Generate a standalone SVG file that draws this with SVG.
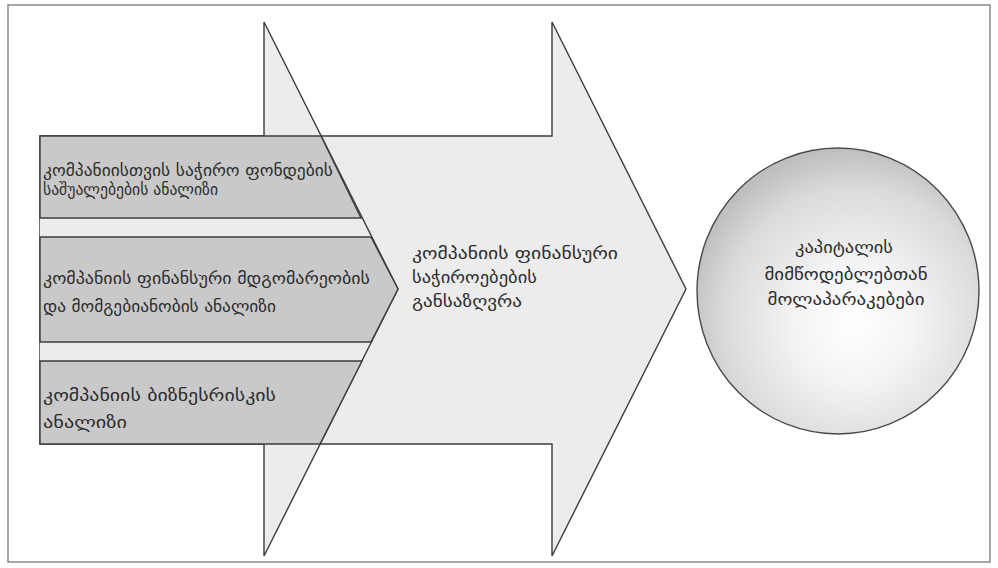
<svg xmlns="http://www.w3.org/2000/svg" width="998" height="568" viewBox="0 0 998 568">
<defs>
<radialGradient id="sphere" cx="0.56" cy="0.6" r="0.6" fx="0.56" fy="0.62">
<stop offset="0" stop-color="#ffffff"/>
<stop offset="0.35" stop-color="#f4f4f4"/>
<stop offset="0.78" stop-color="#dadada"/>
<stop offset="1" stop-color="#bebebe"/>
</radialGradient>
<style>
.edge{stroke:#3c3c3c;stroke-width:1.4;stroke-linejoin:miter}
.light{fill:#ececec}
.band{fill:#c9c9c9}
.t{font-family:"DejaVu Sans","Noto Sans",sans-serif;fill:#2e2e2e}
.s{font-size:16px}
.m{font-size:17px}
</style>
</defs>
<rect x="8" y="5" width="982" height="557" fill="#ffffff" stroke="#8a8a8a" stroke-width="1.5"/>
<g id="main-arrow">
<polygon class="light edge" points="40,136 552,136 552,22 686,289 552,556 552,444 40,444"/>
<text class="t m" x="412" y="259" textLength="206" lengthAdjust="spacingAndGlyphs">კომპანიის  ფინანსური</text>
<text class="t m" x="412" y="283" textLength="125" lengthAdjust="spacingAndGlyphs">საჭიროებების</text>
<text class="t m" x="412" y="307" textLength="110" lengthAdjust="spacingAndGlyphs">განსაზღვრა</text>
</g>
<g id="input-arrow">
<polygon class="light" points="40,136 264,136 264,22 398,289 264,556 264,444 40,444"/>
<polyline class="edge" fill="none" points="264,136 264,22 398,289 264,556 264,444"/>
</g>
<g id="box-funds">
<polygon class="band edge" points="40,136 321,136 361,218 40,218"/>
<text class="t s" x="43" y="176" textLength="290" lengthAdjust="spacingAndGlyphs">კომპანიისთვის საჭირო ფონდების</text>
<text class="t s" x="43" y="195" textLength="175" lengthAdjust="spacingAndGlyphs">საშუალებების ანალიზი</text>
</g>
<g id="box-finance">
<polygon class="band edge" points="40,237 371,237 398,289 371,342 40,342"/>
<text class="t s" x="43" y="284" textLength="327" lengthAdjust="spacingAndGlyphs">კომპანიის  ფინანსური  მდგომარეობის</text>
<text class="t s" x="43" y="312" textLength="233" lengthAdjust="spacingAndGlyphs">და მომგებიანობის ანალიზი</text>
</g>
<g id="box-risk">
<polygon class="band edge" points="40,361 362,361 320,444 40,444"/>
<text class="t s" x="43" y="401" textLength="233" lengthAdjust="spacingAndGlyphs">კომპანიის ბიზნესრისკის</text>
<text class="t s" x="43" y="428" textLength="84" lengthAdjust="spacingAndGlyphs">ანალიზი</text>
</g>
<g id="capital-circle">
<ellipse cx="838" cy="291" rx="141" ry="143" fill="url(#sphere)" stroke="#4a4a4a" stroke-width="1.4"/>
<text class="t m" x="844" y="253" text-anchor="middle" textLength="98" lengthAdjust="spacingAndGlyphs">კაპიტალის</text>
<text class="t m" x="846" y="280" text-anchor="middle" textLength="163" lengthAdjust="spacingAndGlyphs">მიმწოდებლებთან</text>
<text class="t m" x="846" y="305" text-anchor="middle" textLength="157" lengthAdjust="spacingAndGlyphs">მოლაპარაკებები</text>
</g>
<g id="connectors"/>
</svg>
